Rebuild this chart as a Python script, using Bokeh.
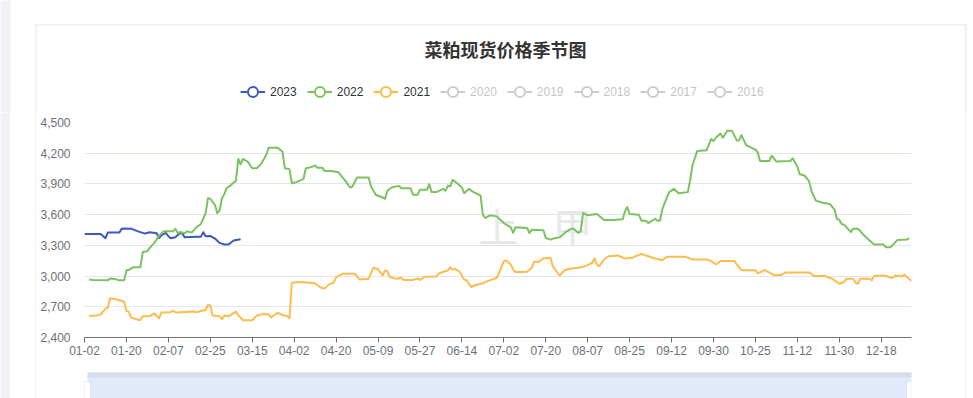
from bokeh.plotting import figure
from bokeh.layouts import column, row
from bokeh.models import (Range1d, Legend, LegendItem, Label, BoxAnnotation, Spacer,
                          FixedTicker, NumeralTickFormatter)
from bokeh.embed import file_html
from bokeh.resources import INLINE

title_text = "菜粕现货价格季节图"
years = ["2023", "2022", "2021", "2020", "2019", "2018", "2017", "2016"]
tick_labels = ["01-02", "01-20", "02-07", "02-25", "03-15", "04-02", "04-20", "05-09",
               "05-27", "06-14", "07-02", "07-20", "08-07", "08-25", "09-12", "09-30",
               "10-25", "11-12", "11-30", "12-18"]
tick_pos = [0, 18, 36, 54, 72, 90, 108, 126, 144, 162, 180, 198, 216, 234, 252, 270,
            288, 306, 324, 342]
n_categories = 356
y_ticks = [2400, 2700, 3000, 3300, 3600, 3900, 4200, 4500]

# series: trading-day index on the category axis, price
idx_2023 = [0, 7, 9, 10, 15, 16, 20, 23, 26, 28, 31, 32, 33, 35, 36, 37, 39, 41, 42, 43,
            48, 50, 51, 52, 54, 56, 58, 60, 62, 64, 67]
val_2023 = [3410, 3410, 3370, 3425, 3425, 3465, 3463, 3437, 3415, 3428, 3418, 3372, 3398,
            3421, 3389, 3369, 3379, 3421, 3415, 3379, 3385, 3385, 3428, 3389, 3392, 3366,
            3324, 3308, 3311, 3347, 3360]

idx_2022 = [2, 4, 10, 11, 13, 15, 17, 18, 19, 21, 24, 25, 27, 28, 30, 32, 34, 38, 39, 40,
            41, 43, 44, 46, 48, 50, 52, 53, 54, 56, 57, 58, 59, 60, 61, 63, 65, 66, 67, 68,
            70, 72, 74, 76, 78, 79, 83, 85, 86, 88, 89, 91, 94, 95, 97, 99, 100, 102, 103,
            106, 109, 112, 114, 115, 117, 122, 123, 125, 127, 129, 130, 132, 135, 136, 140,
            141, 143, 144, 147, 148, 149, 151, 154, 155, 156, 157, 158, 160, 162, 163, 165,
            167, 170, 171, 172, 174, 177, 180, 183, 184, 185, 190, 191, 192, 197, 198, 200,
            202, 204, 207, 209, 210, 212, 213, 214, 216, 220, 223, 227, 231, 232, 233, 234,
            238, 239, 241, 242, 245, 246, 247, 248, 249, 251, 253, 255, 259, 260, 261, 263,
            267, 269, 270, 271, 273, 274, 276, 278, 280, 281, 282, 284, 286, 288, 289, 290,
            294, 295, 297, 303, 304, 306, 307, 309, 311, 312, 314, 317, 320, 322, 323, 324,
            325, 326, 329, 330, 332, 335, 337, 339, 343, 344, 346, 349, 353, 354]
val_2022 = [2967, 2961, 2958, 2977, 2971, 2958, 2958, 3055, 3061, 3087, 3087, 3236, 3243,
            3275, 3324, 3395, 3437, 3437, 3463, 3418, 3431, 3418, 3437, 3424, 3476, 3509,
            3615, 3761, 3755, 3696, 3615, 3640, 3761, 3800, 3858, 3891, 3930, 4144, 4092,
            4144, 4118, 4053, 4053, 4101, 4182, 4254, 4254, 4215, 4053, 4043, 3907, 3917,
            3949, 4053, 4063, 4079, 4059, 4059, 4027, 4027, 4014, 3930, 3865, 3875, 3962,
            3962, 3875, 3794, 3777, 3755, 3833, 3868, 3881, 3858, 3858, 3794, 3794, 3842,
            3842, 3897, 3820, 3820, 3852, 3833, 3884, 3875, 3939, 3907, 3865, 3810, 3852,
            3820, 3787, 3599, 3567, 3593, 3583, 3518, 3476, 3421, 3476, 3470, 3421, 3453,
            3447, 3372, 3356, 3372, 3379, 3437, 3463, 3463, 3421, 3437, 3615, 3593, 3606,
            3547, 3547, 3554, 3632, 3674, 3606, 3599, 3541, 3541, 3518, 3560, 3541, 3541,
            3648, 3713, 3820, 3852, 3810, 3820, 3939, 4085, 4221, 4228, 4338, 4319, 4351,
            4393, 4351, 4422, 4416, 4325, 4325, 4377, 4280, 4257, 4234, 4208, 4124, 4124,
            4176, 4118, 4124, 4150, 4069, 3995, 3982, 3930, 3833, 3735, 3716, 3703, 3648,
            3557, 3551, 3509, 3502, 3431, 3463, 3463, 3389, 3347, 3308, 3308, 3282, 3282,
            3353, 3356, 3372]

idx_2021 = [2, 5, 7, 9, 10, 11, 13, 15, 17, 18, 19, 20, 23, 24, 25, 28, 30, 32, 33, 37,
            38, 39, 47, 48, 51, 52, 53, 54, 55, 58, 59, 60, 62, 65, 66, 68, 72, 74, 76, 79,
            80, 83, 85, 87, 88, 89, 93, 99, 101, 103, 105, 107, 108, 111, 116, 118, 122, 124,
            126, 128, 129, 130, 131, 134, 136, 137, 141, 143, 144, 146, 151, 152, 154, 156,
            157, 158, 159, 161, 163, 164, 166, 168, 171, 173, 177, 178, 180, 181, 183, 184,
            185, 187, 190, 192, 193, 195, 197, 200, 201, 203, 204, 206, 208, 212, 215, 217,
            218, 219, 220, 221, 223, 225, 229, 232, 235, 239, 241, 245, 248, 250, 258, 261,
            267, 269, 271, 273, 279, 280, 282, 288, 289, 292, 296, 299, 301, 311, 312, 313,
            318, 321, 322, 324, 326, 327, 330, 331, 332, 333, 337, 338, 339, 344, 346, 347,
            348, 351, 352, 353, 355]
val_2021 = [2611, 2614, 2627, 2682, 2692, 2783, 2776, 2763, 2750, 2660, 2653, 2595, 2572,
            2572, 2608, 2611, 2634, 2588, 2643, 2647, 2663, 2643, 2653, 2647, 2666, 2666,
            2718, 2712, 2614, 2608, 2579, 2614, 2608, 2653, 2617, 2569, 2569, 2614, 2627,
            2627, 2595, 2643, 2617, 2611, 2588, 2935, 2942, 2929, 2893, 2877, 2919, 2935,
            2990, 3023, 3023, 2967, 2974, 3081, 3065, 3006, 3055, 3048, 2990, 2974, 2984,
            2961, 2961, 2977, 2961, 2993, 2997, 3023, 3042, 3055, 3087, 3061, 3071, 3042,
            2967, 2958, 2893, 2913, 2929, 2951, 2984, 3032, 3146, 3152, 3113, 3065, 3039,
            3039, 3042, 3081, 3139, 3139, 3172, 3178, 3097, 3032, 3006, 3055, 3071, 3081,
            3097, 3120, 3130, 3172, 3107, 3097, 3162, 3194, 3201, 3172, 3178, 3217, 3201,
            3172, 3155, 3188, 3188, 3162, 3162, 3146, 3113, 3146, 3146, 3113, 3058, 3058,
            3026, 3058, 3010, 3010, 3035, 3035, 3023, 3000, 3000, 2974, 2958, 2925, 2942,
            2974, 2974, 2935, 2925, 2974, 2974, 2958, 3003, 3003, 2984, 2984, 3006, 2997,
            3016, 2990, 2951]

series = {"2023": (idx_2023, val_2023), "2022": (idx_2022, val_2022), "2021": (idx_2021, val_2021)}
colors = {"2023": "#3d59bd", "2022": "#7cc261", "2021": "#fdbc4f"}

FONT = "Liberation Sans"
AXIS_GREY = "#6E7079"
CARD_LINE = "#e3e3e3"
PAGE_GREY = "#f0f2f6"
PAGE_W = 973


def bare_fig(w, h, fill="white"):
    f = figure(width=w, height=h, x_range=Range1d(0, 1), y_range=Range1d(0, 1),
               x_axis_type=None, y_axis_type=None,
               min_border=0, min_border_left=0, min_border_right=0,
               min_border_top=0, min_border_bottom=0,
               output_backend="svg", toolbar_location=None, title=None)
    f.outline_line_color = None
    f.background_fill_color = fill
    f.border_fill_color = fill
    return f


def sbox(f, l, r, t, b, color, line_color=None):
    f.add_layout(BoxAnnotation(left=l, right=r, top=t, bottom=b,
                               left_units="screen", right_units="screen",
                               top_units="screen", bottom_units="screen",
                               fill_color=color, fill_alpha=1, line_color=line_color,
                               line_width=1))


# ---- header across the full width: page strip, card top edge, title, legend
HEAD_H = 112
head = bare_fig(PAGE_W, HEAD_H)
sbox(head, -2, 10, HEAD_H + 2, -2, PAGE_GREY)
sbox(head, 35, 966, 88, 87, CARD_LINE)
sbox(head, 35, 36, 88, -2, CARD_LINE)
sbox(head, 965, 966, 88, -2, CARD_LINE)
head.add_layout(Label(x=505, y=64, x_units="screen", y_units="screen", text=title_text,
                      text_align="center", text_baseline="middle",
                      text_font="Noto Sans CJK SC", text_font_style="bold",
                      text_font_size="18px", text_color="#333333"))

items = []
for yr in years:
    c = colors.get(yr, "#555555")
    vis = yr in series
    # one off-range anchor point so the legend glyph is drawn (never visible in the header)
    dl = head.line(x=[tick_pos[0]], y=[y_ticks[0]], line_color=c, line_width=2, visible=vis)
    ds = head.scatter(x=[tick_pos[0]], y=[y_ticks[0]], marker="circle", size=10,
                      fill_color="white", line_color=c, line_width=2, visible=vis)
    items.append(LegendItem(label=yr, renderers=[dl, ds]))

legend = Legend(items=items, orientation="horizontal", location=(240, 8),
                glyph_width=25, glyph_height=25, label_standoff=5, spacing=10,
                padding=0, margin=0, border_line_color=None, background_fill_alpha=0,
                label_text_font=FONT, label_text_font_size="12px",
                label_text_color="#333333", click_policy="hide",
                inactive_fill_color="white", inactive_fill_alpha=0.7)
head.add_layout(legend, "center")

# ---- main chart
p = figure(width=929, height=250,
           min_border_left=48, min_border_right=54, min_border_top=10, min_border_bottom=25,
           x_range=Range1d(0, n_categories - 1), y_range=Range1d(y_ticks[0], y_ticks[-1]),
           output_backend="svg", toolbar_location=None, title=None)
p.outline_line_color = None
p.background_fill_color = "white"
p.border_fill_color = "white"

p.xaxis.ticker = FixedTicker(ticks=tick_pos)
p.xaxis.major_label_overrides = {pos: lab for pos, lab in zip(tick_pos, tick_labels)}
p.xaxis.axis_line_color = AXIS_GREY
p.xaxis.major_tick_line_color = AXIS_GREY
p.xaxis.major_tick_out = 5
p.xaxis.major_tick_in = 0
p.xaxis.minor_tick_line_color = None
p.xaxis.major_label_text_color = AXIS_GREY
p.xaxis.major_label_text_font = FONT
p.xaxis.major_label_text_font_size = "12px"
p.xaxis.major_label_standoff = 3

p.yaxis.ticker = FixedTicker(ticks=y_ticks)
p.yaxis.formatter = NumeralTickFormatter(format="0,0")
p.yaxis.axis_line_color = None
p.yaxis.major_tick_line_color = None
p.yaxis.minor_tick_line_color = None
p.yaxis.major_label_text_color = AXIS_GREY
p.yaxis.major_label_text_font = FONT
p.yaxis.major_label_text_font_size = "12px"
p.yaxis.major_label_standoff = 8

p.xgrid.visible = False
p.ygrid.ticker = FixedTicker(ticks=y_ticks)
p.ygrid.grid_line_color = "#E0E6F1"

# watermark
for txt, xs in (("上", 414), ("甲", 488)):
    p.add_layout(Label(x=xs, y=113, x_units="screen", y_units="screen", text=txt,
                       text_align="center", text_baseline="middle",
                       text_font="Noto Sans CJK SC", text_font_size="40px",
                       text_color="#e8e8e8", level="underlay"))

for yr in years:
    if yr in series:
        xs, ys = series[yr]
        p.line(xs, ys, line_color=colors[yr], line_width=2, line_join="round")

# ---- data-zoom slider strip (frame aligned with the chart frame)
slider = figure(width=929, height=36, x_range=Range1d(0, 1), y_range=Range1d(0, 1),
                x_axis_type=None, y_axis_type=None,
                min_border_left=48, min_border_right=54, min_border_top=0, min_border_bottom=0,
                output_backend="svg", toolbar_location=None, title=None)
slider.outline_line_color = None
slider.border_fill_color = "white"
sbox(slider, 3, 828, 26, -5, "#e1e9fa")
sbox(slider, 3, 828, 26, 21, "#d4ddee")
sbox(slider, 0, 6, 17, -5, "white", "#aab6cf")
sbox(slider, 822, 828, 17, -5, "white", "#aab6cf")

BODY_H = 398 - HEAD_H
body = row(bare_fig(10, BODY_H, PAGE_GREY), Spacer(width=25, height=BODY_H),
           bare_fig(1, BODY_H, CARD_LINE),
           column(p, slider, spacing=0),
           bare_fig(1, BODY_H, CARD_LINE), Spacer(width=7, height=BODY_H),
           spacing=0)
layout = column(head, body, spacing=0)

open("out.html", "w").write(file_html(layout, INLINE))
